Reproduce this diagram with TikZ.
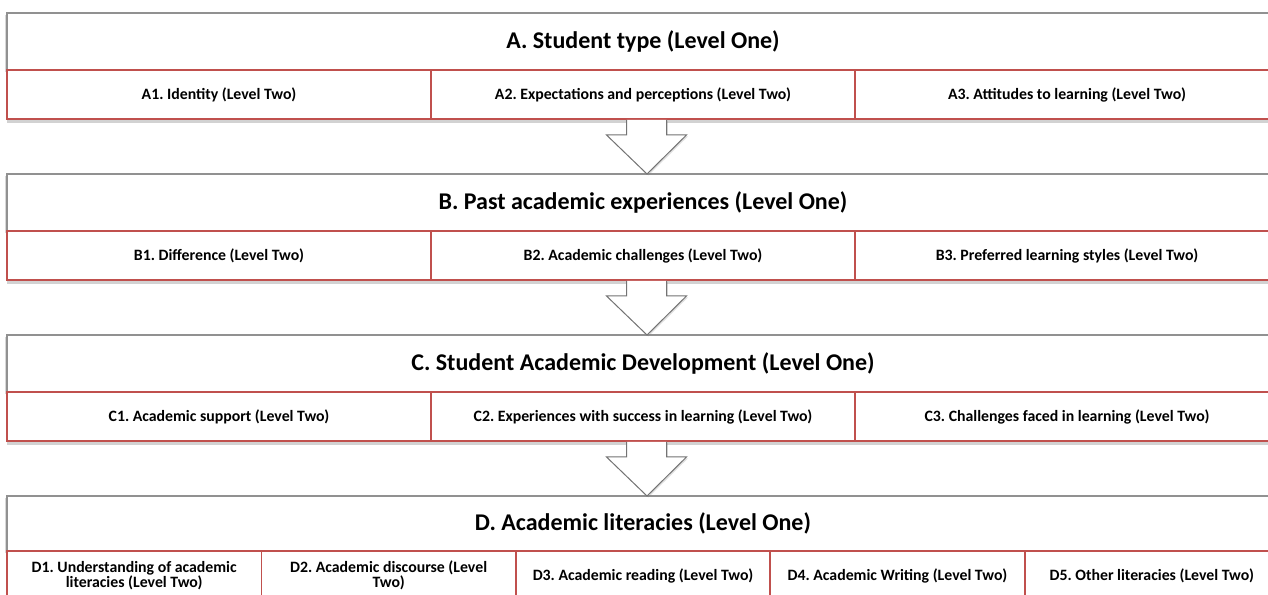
\documentclass[tikz,border=0pt]{standalone}
\usepackage{fontspec}
\setmainfont{Carlito}
\usepackage{tikz}
\usetikzlibrary{shadows}
\frenchspacing

\definecolor{cellred}{RGB}{192,80,77}
\definecolor{boxgray}{RGB}{145,145,145}
\definecolor{arrowgray}{RGB}{115,115,115}

% small bold cell text, close lines
\newcommand{\cellfont}{\fontsize{7.9}{7.2}\selectfont\bfseries\lineskiplimit=-5pt\relax}

% block arrow from the cell row above to the next level box
\newcommand{\flowarrow}[2]{%
  \draw[bigarrow] ([xshift=-8.25pt,yshift=-0.45pt]#1.south) -- ([xshift=-8.25pt,yshift=-8pt]#1.south)
    -- ([xshift=-18.25pt,yshift=-8pt]#1.south) -- ([xshift=2pt]#2.north)
    -- ([xshift=21.75pt,yshift=-8pt]#1.south) -- ([xshift=11.75pt,yshift=-8pt]#1.south)
    -- ([xshift=11.75pt,yshift=-0.45pt]#1.south);}

\begin{document}
\begin{tikzpicture}[x=0.5pt, y=0.5pt,
    lvlone/.style={draw=boxgray, line width=0.6pt, fill=white, minimum width=636pt, minimum height=28.5pt,
        inner sep=0pt, outer sep=0pt, font=\fontsize{12}{14}\selectfont\bfseries,
        drop shadow={shadow xshift=-0.8pt, shadow yshift=-1pt, opacity=0.3}},
    lvltwo/.style={draw=cellred, line width=0.9pt, fill=white, minimum width=212pt, minimum height=24.5pt,
        inner sep=0pt, outer sep=0pt, align=center, font=\cellfont,
        drop shadow={shadow xshift=0pt, shadow yshift=-1.8pt, opacity=0.35}},
    lvltwod/.style={lvltwo, minimum width=127.2pt},
    bigarrow/.style={draw=arrowgray, line width=0.5pt, fill=white, line join=miter,
        drop shadow={shadow xshift=0.7pt, shadow yshift=-0.7pt, opacity=0.25}}]
        \useasboundingbox (0,0) rectangle (1268,594);
        \clip (0,0) rectangle (1268,594);
        \fill[white] (0,0) rectangle (1268,594);

        % Level one
        \node[lvlone] (A) at (643, 552.5) {A. Student type (Level One)};
        \node[lvltwo] (A1) at (219, 499.5) {A1. Identity (Level Two)};
        \node[lvltwo] (A2) at (643, 499.5) {A2. Expectations and perceptions (Level Two)};
        \node[lvltwo] (A3) at (1067, 499.5) {A3. Attitudes to learning (Level Two)};

        \node[lvlone] (B) at (643, 391.5) {B. Past academic experiences (Level One)};
        \node[lvltwo] (B1) at (219, 338.5) {B1. Difference (Level Two)};
        \node[lvltwo] (B2) at (643, 338.5) {B2. Academic challenges (Level Two)};
        \node[lvltwo] (B3) at (1067, 338.5) {B3. Preferred learning styles (Level Two)};

        \node[lvlone] (C) at (643, 230.5) {C. Student Academic Development (Level One)};
        \node[lvltwo] (C1) at (219, 177.5) {C1. Academic support (Level Two)};
        \node[lvltwo] (C2) at (643, 177.5) {C2. Experiences with success in learning (Level Two)};
        \node[lvltwo] (C3) at (1067, 177.5) {C3. Challenges faced in learning (Level Two)};

        \node[lvlone, minimum height=27.5pt] (D) at (643, 70.5) {D. Academic literacies (Level One)};
        \node[lvltwod] (D1) at (134.2, 18.5) {D1. Understanding of academic\\literacies (Level Two)};
        \node[lvltwod] (D2) at (388.6, 18.5) {D2. Academic discourse (Level\\Two)};
        \node[lvltwod] (D3) at (643, 18.5) {D3. Academic reading (Level Two)};
        \node[lvltwod] (D4) at (897.4, 18.5) {D4. Academic Writing (Level Two)};
        \node[lvltwod] (D5) at (1151.8, 18.5) {D5. Other literacies (Level Two)};

        % Arrows
        \flowarrow{A2}{B}
        \flowarrow{B2}{C}
        \flowarrow{C2}{D}

\end{tikzpicture}
\end{document}
